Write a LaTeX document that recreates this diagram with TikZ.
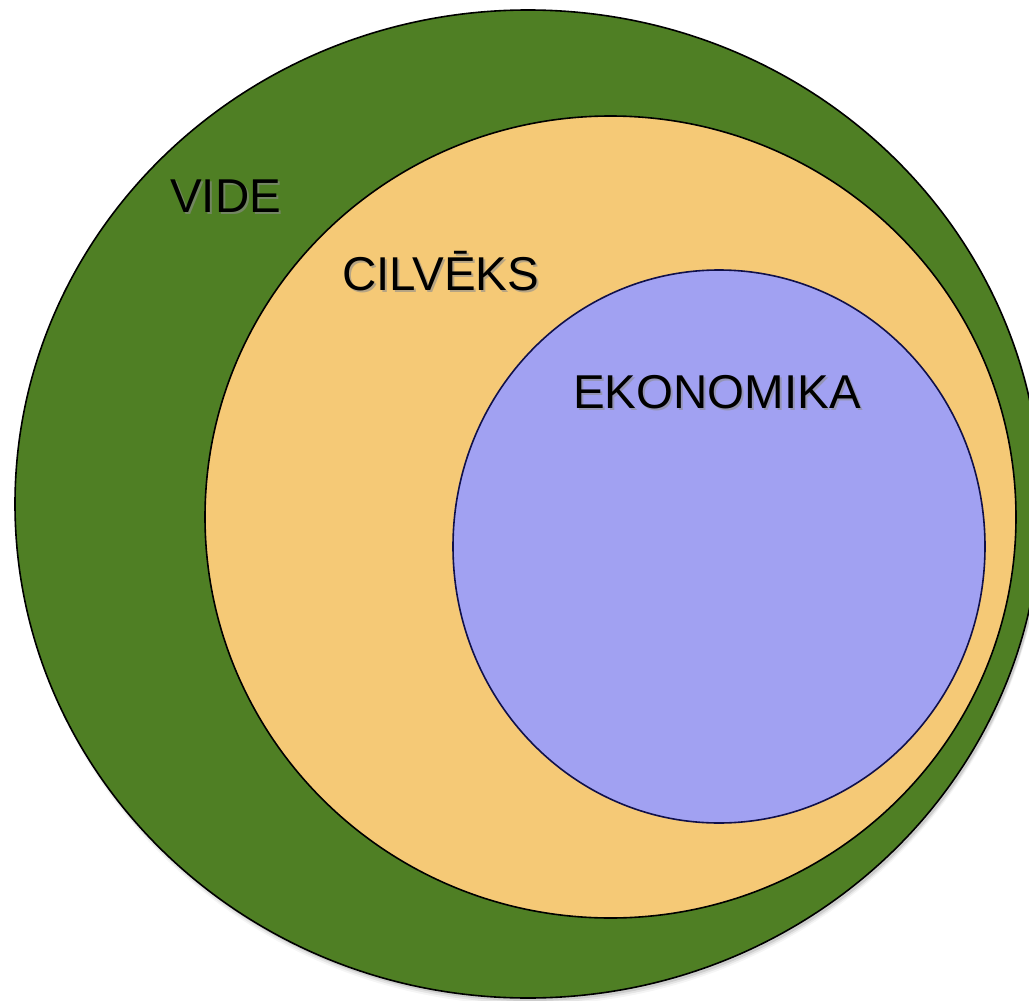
\documentclass[tikz,border=0pt]{standalone}
\usepackage{fontspec}
\setmainfont{Liberation Sans}
\usetikzlibrary{shapes.geometric,positioning}

\definecolor{videgreen}{RGB}{79,127,36}
\definecolor{cilvtan}{RGB}{245,201,118}
\definecolor{ekonblue}{RGB}{161,161,242}
\definecolor{ekonline}{RGB}{16,16,74}

\begin{document}
\begin{tikzpicture}[
  x=1pt, y=-1pt,
  ring/.style={ellipse, draw, line width=1.6pt, inner sep=0pt},
  lbl/.style={anchor=base west, inner sep=0pt, font=\fontsize{47.5}{56}\selectfont},
  lblshadow/.style={lbl, text=black!45, opacity=0.6}
]
\useasboundingbox (0,0) rectangle (1029,1001);
\clip (0,0) rectangle (1029,1001);

% =======================================================
%                     RINGS
% =======================================================
% soft shadow under the outer ring
\foreach \d/\o in {3/0.10,5/0.07,7/0.04}
  \fill[black, opacity=\o] (530,{504+\d}) ellipse [x radius=513, y radius=494];

\node[ring, fill=videgreen, minimum width=1026pt, minimum height=988pt] (vide) at (528,504) {};
\node[ring, fill=cilvtan, minimum width=811pt, minimum height=802pt] (cilveks) at (610.5,517) {};
\node[ring, fill=ekonblue, draw=ekonline, minimum width=532pt, minimum height=553pt] (ekon) at (719,546.5) {};

% =======================================================
%                     LABELS
% =======================================================
\node[lblshadow] at (172,214) {VIDE};
\node[lbl] (videlbl) at (170,212) {VIDE};

\node[lblshadow] at (344,292) {CILVĒKS};
\node[lbl] (cilveklbl) at (342,290) {CILVĒKS};

\node[lblshadow] at (575,410) {EKONOMIKA};
\node[lbl] (ekonlbl) at (573,408) {EKONOMIKA};

\end{tikzpicture}
\end{document}
